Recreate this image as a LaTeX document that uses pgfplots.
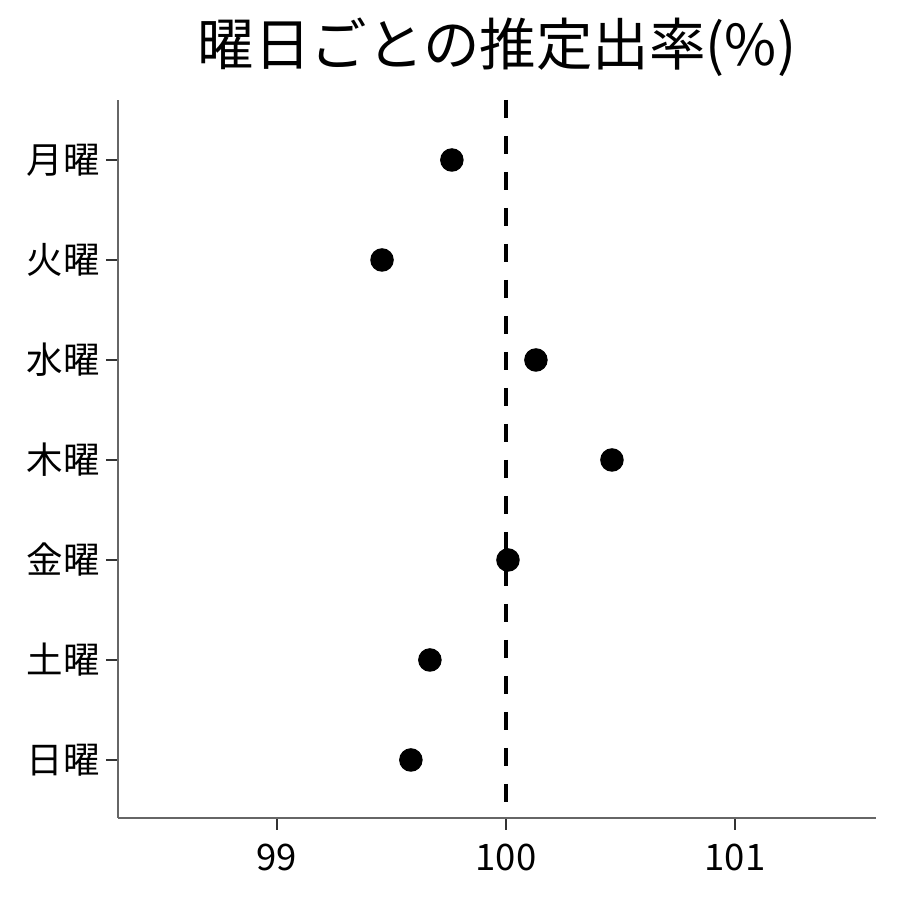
\documentclass[border=0pt]{standalone}
\usepackage{pgfplots}
\pgfplotsset{compat=1.18}
\usepackage{fontspec}
\setmainfont{Noto Sans CJK JP}
\begin{document}
\begin{tikzpicture}
\begin{axis}[
    scale only axis,
    width=303.2pt, height=287.2pt,
    xmin=98.306, xmax=101.616,
    ymin=0.42, ymax=7.6,
    xtick={99,100,101},
    ytick={1,2,3,4,5,6,7},
    yticklabels={日曜,土曜,金曜,木曜,水曜,火曜,月曜},
    axis x line*=bottom, axis y line*=left,
    axis line style={draw=black!60, line width=0.6pt, -},
    tick align=outside,
    major tick length=4.8pt,
    every tick/.append style={draw=black!80, line width=1.1pt},
    major tick style={draw=black!80, line width=1.1pt},
    ticklabel style={font=\fontsize{14.6pt}{16pt}\selectfont},
    /pgf/number format/assume math mode=true,
    yticklabel style={xshift=1pt},
    xticklabel style={yshift=-2pt},
    title={曜日ごとの推定出率(\%)},
    title style={font=\fontsize{22.6pt}{26pt}\selectfont, yshift=0pt},
    clip=false,
]
\addplot[black, line width=1.3pt, dash pattern=on 7.2pt off 7.2pt] coordinates {(100,7.6) (100,0.42)};
\addplot[only marks, mark=*, mark size=4.5pt, black] coordinates {
    (99.764,7) (99.459,6) (100.131,5) (100.463,4) (100.009,3) (99.668,2) (99.585,1)
};
\end{axis}
\path ([xshift=-47.2pt,yshift=-32.8pt]current axis.south west) rectangle ([xshift=9.6pt,yshift=40pt]current axis.north east);
\end{tikzpicture}
\end{document}
